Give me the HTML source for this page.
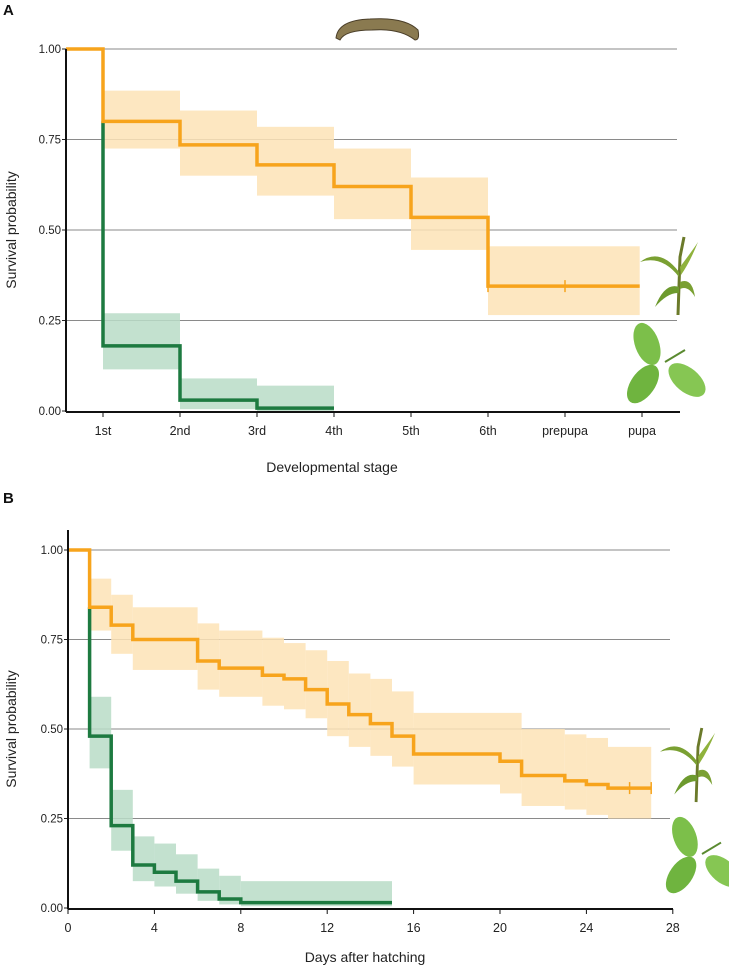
<!DOCTYPE html>
<html><head><meta charset="utf-8"><style>
body{margin:0;background:#fff;}
svg{display:block;font-family:"Liberation Sans",sans-serif;}
</style></head><body>
<svg id="chart" width="729" height="972" viewBox="0 0 729 972">
<g id="A"></g>
<g id="B"></g>
</svg>
<script>
// Panel A data (stage index: 0=1st ... 7=pupa)
const stageLabels = ["1st","2nd","3rd","4th","5th","6th","prepupa","pupa"];
const aOrangeX = [-0.48, 0, 1, 2, 3, 4, 5, 6.97];
const aOrangeY = [1.0, 0.80, 0.735, 0.68, 0.62, 0.535, 0.345];
const aOrangeLo = [null, 0.725, 0.65, 0.595, 0.53, 0.445, 0.265];
const aOrangeHi = [null, 0.885, 0.83, 0.785, 0.725, 0.645, 0.455];
const aGreenX = [0, 1, 2, 3];
const aGreenY = [0.18, 0.03, 0.008];
const aGreenLo = [0.115, 0.005, 0.0];
const aGreenHi = [0.27, 0.09, 0.07];
const aGreenStart = 0.80;
// Panel B data (days)
const bOrangeX = [0,1,2,3,6,7,9,10,11,12,13,14,15,16,20,21,23,24,25,27];
const bOrangeY = [1.0,0.84,0.79,0.75,0.69,0.67,0.65,0.64,0.61,0.57,0.54,0.515,0.48,0.43,0.41,0.37,0.355,0.345,0.335];
const bOrangeLo = [null,0.775,0.71,0.665,0.61,0.59,0.565,0.555,0.53,0.48,0.45,0.425,0.395,0.345,0.32,0.285,0.275,0.26,0.25];
const bOrangeHi = [null,0.92,0.875,0.84,0.795,0.775,0.755,0.74,0.72,0.69,0.655,0.64,0.605,0.545,0.545,0.5,0.485,0.475,0.45];
const bGreenX = [1,2,3,4,5,6,7,8,15];
const bGreenY = [0.48,0.23,0.12,0.10,0.075,0.045,0.025,0.015];
const bGreenLo = [0.39,0.16,0.075,0.06,0.04,0.02,0.01,0.005];
const bGreenHi = [0.59,0.33,0.20,0.18,0.15,0.11,0.09,0.075];
const bGreenStart = 0.84;
const yTicks = [0, 0.25, 0.5, 0.75, 1.0];
const yTickLabels = ["0.00","0.25","0.50","0.75","1.00"];
const bXTicks = [0,4,8,12,16,20,24,28];

const NS="http://www.w3.org/2000/svg";
function mk(parent,tag,attrs,text){const e=document.createElementNS(NS,tag);for(const k in attrs)e.setAttribute(k,attrs[k]);if(text!=null)e.textContent=text;parent.appendChild(e);return e;}
const OR="#f7a41c", ORF="#fde3b6", GR="#1d7a40", GRF="#b8dcc7";

function drawPanel(g, cfg){
  const sx=cfg.sx, sy=cfg.sy;
  // gridlines
  yTicks.forEach((t,i)=>{
    if(t>0){const l=mk(g,'line',{x1:cfg.x0,x2:cfg.gridEnd,y1:sy(t),y2:sy(t),stroke:'#8a8a8a','stroke-width':1});
    
    }
    const tk=mk(g,'line',{x1:cfg.x0-4,x2:cfg.x0,y1:sy(t),y2:sy(t),stroke:'#222'});
    
    
    const tx=mk(g,'text',{x:cfg.x0-5,y:sy(t)+4,'text-anchor':'end','font-size':11.5,fill:'#222'},yTickLabels[i]);
    
    
  });
  // CI bands
  function bands(xs,lo,hi,fill,off){
    for(let i=0;i<lo.length;i++){ if(lo[i]==null) continue;
      const x1=sx(xs[i+off]), x2=sx(xs[i+off+1]);
      const r=mk(g,'rect',{x:x1,y:sy(hi[i]),width:x2-x1,height:sy(lo[i])-sy(hi[i]),fill:fill,opacity:0.85});
      
      
    }
  }
  bands(cfg.ox,cfg.olo,cfg.ohi,ORF,0);
  bands(cfg.gx,cfg.glo,cfg.ghi,GRF,0);
  // step lines
  function step(xs,ys,color,startY){
    let d='';
    if(startY!=null) d='M'+sx(xs[0])+','+sy(startY)+' L'+sx(xs[0])+','+sy(ys[0]);
    else d='M'+sx(xs[0])+','+sy(ys[0]);
    for(let i=0;i<ys.length;i++){
      d+=' L'+sx(xs[i+1])+','+sy(ys[i]);
      if(i+1<ys.length) d+=' L'+sx(xs[i+1])+','+sy(ys[i+1]);
    }
    return mk(g,'path',{d:d,fill:'none',stroke:color,'stroke-width':3.5,'stroke-linejoin':'miter'});
  }
  const gp=step(cfg.gx,cfg.gy,GR,cfg.gStart);
  
  
  const op=step(cfg.ox,cfg.oy,OR,null);
  
  
  // axes
  const ya=mk(g,'line',{x1:cfg.x0,x2:cfg.x0,y1:cfg.yTop,y2:sy(0)+1,stroke:'#111','stroke-width':2});
  
  
  const xa=mk(g,'line',{x1:cfg.x0,x2:cfg.xEnd,y1:sy(0)+1,y2:sy(0)+1,stroke:'#111','stroke-width':2});
  
  
  cfg.xt.forEach((v,i)=>{
    const t=mk(g,'line',{x1:sx(v),x2:sx(v),y1:sy(0)+1,y2:sy(0)+6,stroke:'#111'});
    
    
    const tx=mk(g,'text',{x:sx(v),y:sy(0)+24,'text-anchor':'middle','font-size':12.5,fill:'#222'},cfg.xl[i]);
    
    
  });
  const yt=mk(g,'text',{transform:'translate(16,'+sy(0.5)+') rotate(-90)','text-anchor':'middle','font-size':14,fill:'#222'},'Survival probability');
  
  
  const xt=mk(g,'text',{x:cfg.xTitleX,y:cfg.xTitleY,'text-anchor':'middle','font-size':14,fill:'#222'},cfg.xTitle);
  
  
  const pl=mk(g,'text',{x:3,y:cfg.labelY,'font-size':15,'font-weight':'bold',fill:'#111'},cfg.label);
  
  
}

const A=document.getElementById('A');
drawPanel(A,{sx:v=>103+77*v, sy:v=>411-362*v, x0:66, gridEnd:677, xEnd:680, yTop:49,
  ox:aOrangeX,oy:aOrangeY,olo:aOrangeLo,ohi:aOrangeHi,
  gx:aGreenX,gy:aGreenY,glo:aGreenLo,ghi:aGreenHi,gStart:aGreenStart,
  xt:stageLabels.map((s,i)=>i), xl:stageLabels, xTitle:'Developmental stage', xTitleX:332, xTitleY:472, label:'A', labelY:15});
const B=document.getElementById('B');
drawPanel(B,{sx:v=>68+21.6*v, sy:v=>908-358*v, x0:68, gridEnd:670, xEnd:673, yTop:530,
  ox:bOrangeX,oy:bOrangeY,olo:bOrangeLo,ohi:bOrangeHi,
  gx:bGreenX,gy:bGreenY,glo:bGreenLo,ghi:bGreenHi,gStart:bGreenStart,
  xt:bXTicks, xl:bXTicks.map(String), xTitle:'Days after hatching', xTitleX:365, xTitleY:962, label:'B', labelY:503});

// censor marks
function censor(g,x,y){const l=mk(g,'line',{x1:x,x2:x,y1:y-6,y2:y+6,stroke:OR,'stroke-width':1.5});

}
censor(A,103+77*5,411-362*0.345);censor(A,103+77*6,411-362*0.345);
censor(B,68+21.6*26,908-358*0.335);censor(B,68+21.6*27,908-358*0.335);

// icons
function maize(g,x,y,s){const gg=mk(g,'g',{transform:'translate('+x+','+y+') scale('+s+')'});


mk(gg,'path',{d:'M38,78 L40,20 L44,0',stroke:'#6b7a2a','stroke-width':3,fill:'none'});
mk(gg,'path',{d:'M39,35 Q20,10 0,25 Q22,18 39,40Z',fill:'#7aa032'});
mk(gg,'path',{d:'M40,30 Q55,10 58,5 Q50,25 41,38Z',fill:'#8fb23c'});
mk(gg,'path',{d:'M39,50 Q25,45 15,70 Q28,55 39,56Z',fill:'#6d9a2e'});
mk(gg,'path',{d:'M40,45 Q52,40 55,60 Q48,48 40,52Z',fill:'#7aa032'});}
function leaves(g,x,y,s){const gg=mk(g,'g',{transform:'translate('+x+','+y+') scale('+s+')'});


mk(gg,'ellipse',{cx:22,cy:22,rx:12,ry:22,fill:'#7cbf4a',transform:'rotate(-20 22 22)'});
mk(gg,'ellipse',{cx:18,cy:62,rx:12,ry:22,fill:'#6fb43f',transform:'rotate(35 18 62)'});
mk(gg,'ellipse',{cx:62,cy:58,rx:12,ry:22,fill:'#86c653',transform:'rotate(-50 62 58)'});
mk(gg,'path',{d:'M40,40 L60,28',stroke:'#5a8a30','stroke-width':2});}
maize(A,640,237,1.0); leaves(A,625,322,1.0);
maize(B,660,728,0.95); leaves(B,664,816,0.95);
const cat=mk(A,'g',{});


mk(cat,'path',{d:'M336,38 Q338,20 370,19 Q405,17 418,30 Q420,40 415,40 Q400,28 372,30 Q345,30 340,40Z',fill:'#8a7a50',stroke:'#4a3e28','stroke-width':1});
</script>
</body></html>
